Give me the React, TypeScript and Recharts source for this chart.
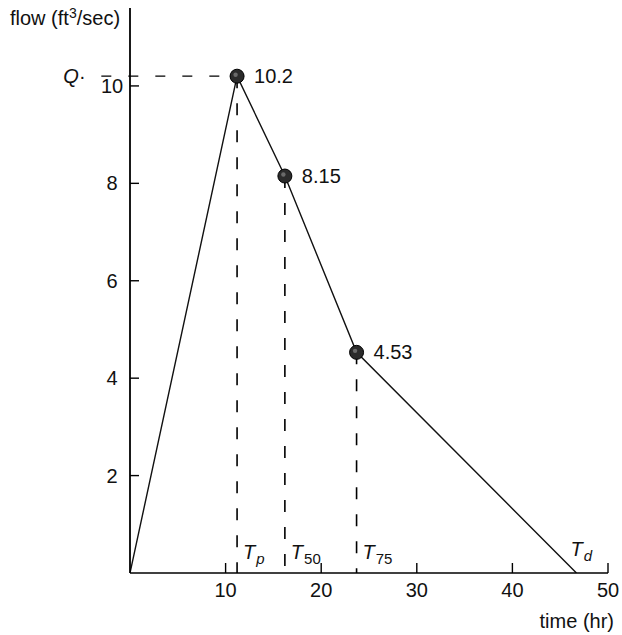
import React from 'react';
import { LineChart, Line, XAxis, YAxis, ReferenceLine } from 'recharts';

const times = [0, 11.2, 16.2, 23.7, 46.7];
const flows = [0, 10.2, 8.15, 4.53, 0];
const pointLabels = ['', '10.2', '8.15', '4.53', ''];
const markerSubs = ['', 'p', '50', '75', 'd'];
const markerSubItalic = [false, true, false, false, true];
const xTicks = [10, 20, 30, 40, 50];
const yTicks = [2, 4, 6, 8, 10];
const qLeftTime = -3;
const yLabel = 'flow (ft';
const yLabelSup = '3';
const yLabelEnd = '/sec)';
const xLabel = 'time (hr)';

const data = times.map((t, i) => ({ t, q: flows[i], label: pointLabels[i], sub: markerSubs[i], subItalic: markerSubItalic[i] }));

const FONT = '"Liberation Sans", Arial, Helvetica, sans-serif';
const FS = 20;

const XTick = (props: any) => {
  const { x, y, payload } = props;
  return (
    <g>
      <line x1={x} y1={y} x2={x} y2={y - 10} stroke="#000" strokeWidth={1.4} />
      <text x={x} y={y + 24} textAnchor="middle" fontFamily={FONT} fontSize={FS} fill="#111">
        {payload.value}
      </text>
    </g>
  );
};

const YTick = (props: any) => {
  const { x, y, payload } = props;
  return (
    <g>
      <line x1={x} y1={y} x2={x + 9} y2={y} stroke="#000" strokeWidth={1.4} />
      <text x={x - 18} y={y + 7} textAnchor="middle" fontFamily={FONT} fontSize={FS} fill="#111">
        {payload.value}
      </text>
    </g>
  );
};

const TLabel = ({ x, baseY, sub, italicSub }: any) => (
  <text x={x} y={baseY} fontFamily={FONT} fontSize={FS} fill="#111">
    <tspan fontStyle="italic">T</tspan>
    <tspan fontSize={15} dy={5} dx={1} fontStyle={italicSub ? 'italic' : 'normal'}>{sub}</tspan>
  </text>
);

const renderDot = (props: any) => {
  const { cx, cy, index, payload } = props;
  if (index === 0) return <g key={`d${index}`} />;
  if (index === data.length - 1) {
    return (
      <g key={`d${index}`}>
        <TLabel x={cx - 6} baseY={cy - 17} sub={payload.sub} italicSub={payload.subItalic} />
      </g>
    );
  }
  return (
    <g key={`d${index}`}>
      <circle cx={cx} cy={cy} r={7} fill="#2b2b2b" stroke="#000" strokeWidth={1} />
      <circle cx={cx - 1.5} cy={cy - 1.5} r={2.2} fill="#6a6a6a" />
      <text x={cx + 17} y={cy + 7} fontFamily={FONT} fontSize={FS} fill="#111">
        {payload.label}
      </text>
    </g>
  );
};

const makeVLabel = (sub: string, italicSub: boolean) => (props: any) => {
  const vb = props.viewBox || {};
  const bottom = (vb.y || 0) + (vb.height || 0);
  return <TLabel x={(vb.x || 0) + 6} baseY={bottom - 14} sub={sub} italicSub={italicSub} />;
};

const QLabel = (props: any) => {
  const vb = props.viewBox || {};
  return (
    <text x={(vb.x || 0) - 38} y={(vb.y || 0) + 7} fontFamily={FONT} fontSize={FS} fill="#111">
      <tspan fontStyle="italic">Q</tspan>
      <tspan>·</tspan>
    </text>
  );
};

export default function App() {
  return (
    <div style={{ position: 'absolute', left: 0, top: 0, width: 622, height: 635, background: '#fff' }}>
      <LineChart
        width={622}
        height={635}
        data={data}
        margin={{ top: 8, right: 14, bottom: 32, left: 70 }}
      >
        <XAxis
          dataKey="t"
          type="number"
          domain={[0, 50]}
          ticks={xTicks}
          interval={0}
          tickSize={0}
          tickMargin={0}
          tickLine={false}
          axisLine={{ stroke: '#000', strokeWidth: 1.6 }}
          tick={<XTick />}
          height={30}
          allowDataOverflow
        />
        <YAxis
          dataKey="q"
          type="number"
          domain={[0, 11.6]}
          ticks={yTicks}
          interval={0}
          tickSize={0}
          tickMargin={0}
          tickLine={false}
          axisLine={{ stroke: '#000', strokeWidth: 1.8 }}
          tick={<YTick />}
          width={60}
          allowDataOverflow
        />
        <ReferenceLine
          segment={[{ x: qLeftTime, y: flows[1] }, { x: times[1], y: flows[1] }]}
          stroke="#000"
          strokeWidth={1.3}
          strokeDasharray="10 17"
          ifOverflow="visible"
          label={QLabel}
        />
        {[1, 2, 3].map((i) => (
          <ReferenceLine
            key={`v${i}`}
            segment={[{ x: times[i], y: flows[i] }, { x: times[i], y: 0 }]}
            stroke="#000"
            strokeWidth={1.6}
            strokeDasharray="12 15"
            ifOverflow="visible"
            label={makeVLabel(markerSubs[i], markerSubItalic[i])}
          />
        ))}
        <Line
          type="linear"
          dataKey="q"
          stroke="#111"
          strokeWidth={1.4}
          dot={renderDot}
          activeDot={false}
          isAnimationActive={false}
        />
        <text x={10} y={25} fontFamily={FONT} fontSize={FS} fill="#111">
          {yLabel}
          <tspan fontSize={14} dy={-7}>{yLabelSup}</tspan>
          <tspan dy={7}>{yLabelEnd}</tspan>
        </text>
        <text x={614} y={628} textAnchor="end" fontFamily={FONT} fontSize={FS} fill="#111">
          {xLabel}
        </text>
      </LineChart>
    </div>
  );
}
